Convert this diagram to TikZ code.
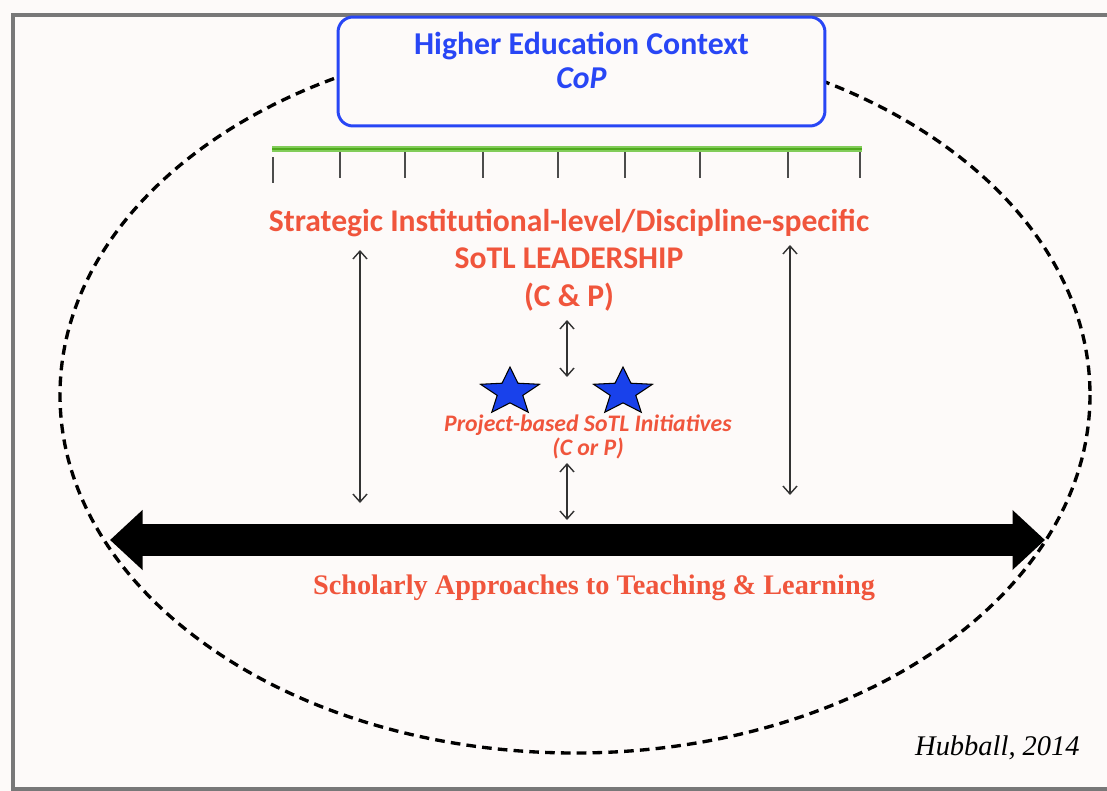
\documentclass[tikz,border=0pt]{standalone}
\usepackage{fontspec}
\usepackage{tikz}
\usetikzlibrary{positioning,arrows.meta,shapes.geometric}
\newfontfamily\carlito{Carlito}
\newfontfamily\tnr{Liberation Serif}
\definecolor{bgcol}{RGB}{253,250,249}
\definecolor{framegray}{RGB}{120,120,120}
\definecolor{ctxblue}{RGB}{40,70,245}
\definecolor{sotlred}{RGB}{240,85,60}
\definecolor{barlight}{RGB}{130,205,90}
\definecolor{bargreen}{RGB}{80,170,30}
\definecolor{starblue}{RGB}{25,65,235}
\tikzset{
  ctxbox/.style={draw=ctxblue, line width=1.7pt, rounded corners=8.5pt, fill=bgcol,
    minimum width=9.74cm, minimum height=2.18cm},
  ctxtext/.style={text=ctxblue, align=center, font=\carlito\bfseries\fontsize{18.1}{19.3}\selectfont},
  leadtext/.style={text=sotlred, align=center, font=\carlito\bfseries\fontsize{18}{21.3}\selectfont},
  projtext/.style={text=sotlred, align=center, font=\carlito\bfseries\itshape\fontsize{13.5}{14}\selectfont},
  sotlstar/.style={star, star points=5, star point ratio=2.3, minimum size=1cm, inner sep=0pt,
    fill=starblue, draw=black, line width=0.6pt, xscale=1.24, transform shape},
  dbl/.style={{Straight Barb[length=4.5pt,width=8pt]}-{Straight Barb[length=4.5pt,width=8pt]},
    line width=0.8pt, black!80},
  bigarrow/.style={{Triangle[length=18.5pt,width=33pt]}-{Triangle[length=18.5pt,width=33pt]},
    line width=18pt, black},
  tick/.style={line width=1.1pt, black!70}
}
\begin{document}
\begin{tikzpicture}[x=0.02cm, y=-0.02cm]
\path [fill=bgcol, use as bounding box] (0,0) rectangle (1107,791);
\draw [framegray, line width=1.8pt] (13,15) rectangle (1130,789);
% community of practice
\draw [line width=1.9pt, dash pattern=on 5.5pt off 3.5pt] (575,395) ellipse [x radius=515, y radius=358];
\node [ctxbox] (ctx) at (581.5,71.5) {};
\node [ctxtext] (ctxt) at (581.5,60) {Higher Education Context\\\textit{CoP}};
% scale
\draw [barlight, line width=3pt] (272,149) -- (862,149);
\draw [bargreen, line width=1.1pt] (272,149) -- (862,149);
\draw [tick] (273,157) -- (273,183);
\foreach \tx in {340,405,483,558,625,700,788,860}
  \draw [tick] (\tx,152) -- (\tx,178);
\node [leadtext] (lead) at (569,260) {Strategic Institutional-level/Discipline-specific\\SoTL LEADERSHIP\\(C \& P)};
\node [sotlstar] (s1) at (510,392) {};
\node [sotlstar] (s2) at (623,392) {};
\node [projtext] (proj) at (588,437) {Project-based SoTL Initiatives\\(C or P)};
\node [text=sotlred, font=\tnr\bfseries\fontsize{16.1}{18}\selectfont] (sch) at (594,588) {Scholarly Approaches to Teaching \& Learning};
\node [anchor=east, inner sep=0pt, font=\tnr\itshape\fontsize{16.2}{17}\selectfont] (ref) at (1080,748) {Hubball, 2014};
% arrows
\coordinate (la) at (360,250);
\coordinate (lb) at (360,503);
\coordinate (ra) at (790,245);
\coordinate (rb) at (790,495);
\coordinate (ca) at (567,320);
\coordinate (cb) at (567,377);
\coordinate (cc) at (567,463);
\coordinate (cd) at (567,520);
\draw [dbl] (la) -- (lb);
\draw [dbl] (ra) -- (rb);
\draw [dbl] (ca) -- (cb);
\draw [dbl] (cc) -- (cd);
\coordinate (bw) at (110,540);
\coordinate (be) at (1045,540);
\draw [bigarrow] (bw) -- (be);
\end{tikzpicture}
\end{document}
